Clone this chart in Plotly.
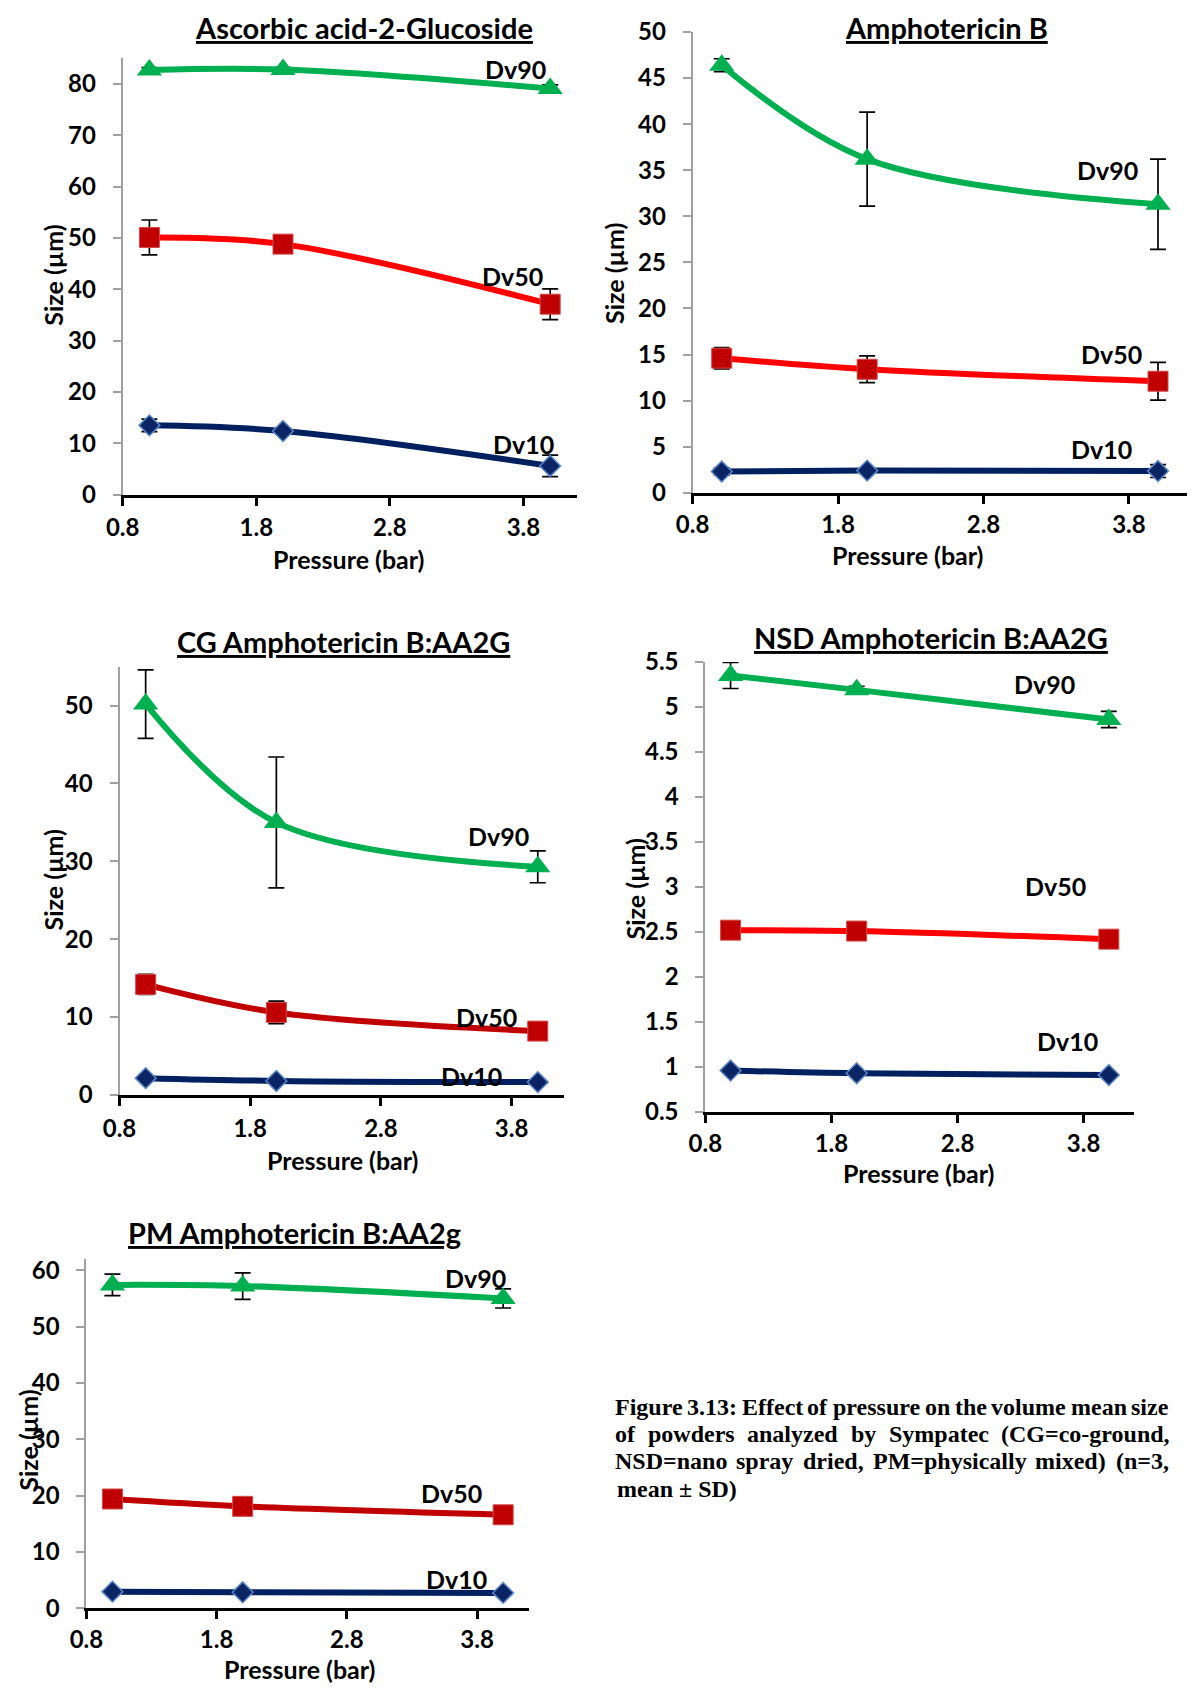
import plotly.graph_objects as go

# ---- data -------------------------------------------------------------
pressure = [1, 2, 4]

aa2g_dv90 = [82.7, 82.8, 79.1]
aa2g_dv90_sd = [0.5, 0.4, 0.7]
aa2g_dv50 = [50.1, 48.8, 37.1]
aa2g_dv50_sd = [3.4, 1.2, 3.0]
aa2g_dv10 = [13.5, 12.4, 5.6]
aa2g_dv10_sd = [1.2, 0.6, 2.1]

amb_dv90 = [46.4, 36.2, 31.3]
amb_dv90_sd = [0.7, 5.1, 4.9]
amb_dv50 = [14.6, 13.4, 12.1]
amb_dv50_sd = [1.15, 1.45, 2.05]
amb_dv10 = [2.3, 2.4, 2.35]
amb_dv10_sd = [0.4, 0.2, 0.7]

cg_dv90 = [50.2, 35.0, 29.3]
cg_dv90_sd = [4.4, 8.4, 2.05]
cg_dv50 = [14.2, 10.6, 8.2]
cg_dv50_sd = [1.3, 1.45, 0.3]
cg_dv10 = [2.16, 1.8, 1.65]
cg_dv10_sd = [0.2, 0.2, 0.2]

nsd_dv90 = [5.35, 5.19, 4.86]
nsd_dv90_sd = [0.145, 0.04, 0.09]
nsd_dv50 = [2.52, 2.51, 2.42]
nsd_dv50_sd = [0.02, 0.02, 0.02]
nsd_dv10 = [0.96, 0.93, 0.91]
nsd_dv10_sd = [0.01, 0.01, 0.01]

pm_dv90 = [57.4, 57.2, 55.0]
pm_dv90_sd = [1.9, 2.35, 1.7]
pm_dv50 = [19.4, 18.1, 16.6]
pm_dv50_sd = [0.5, 0.5, 0.5]
pm_dv10 = [2.96, 2.85, 2.74]
pm_dv10_sd = [0.2, 0.2, 0.2]

x_ticks = [0.8, 1.8, 2.8, 3.8]
series_names = ["Dv90", "Dv50", "Dv10"]

caption_lines = [
    "Figure 3.13: Effect of pressure on the volume mean size",
    "of powders analyzed by Sympatec (CG=co-ground,",
    "NSD=nano spray dried, PM=physically mixed) (n=3,",
    "mean ± SD)",
]

# ---- page geometry ----------------------------------------------------
W, H = 1193, 1697


def px(x):
    return x / W


def py(y):
    return 1 - y / H


FONT = "Lato"
GREEN = "#00B050"
RED = "#FF0000"
DARKRED = "#C00000"
NAVY = "#002060"

panels = [
    dict(title="Ascorbic acid-2-Glucoside",
         data=[(aa2g_dv90, aa2g_dv90_sd), (aa2g_dv50, aa2g_dv50_sd), (aa2g_dv10, aa2g_dv10_sd)],
         xdom=(107.2, 568.0), ydom=(43.0, 487.0),
         yrange=[0, 85], yticks=[0, 10, 20, 30, 40, 50, 60, 70, 80],
         red=RED, standoff=2,
         labels=[(3.74, 82.9), (3.72, 42.6), (3.80, 9.8)],
         title_pos=(352.0, 12.0), ytitle_pos=(35.7, 264.1), xtitle_pos=(336.7, 552.1)),
    dict(title="Amphotericin B",
         data=[(amb_dv90, amb_dv90_sd), (amb_dv50, amb_dv50_sd), (amb_dv10, amb_dv10_sd)],
         xdom=(685.4, 1187.0), ydom=(16.3, 485.0),
         yrange=[0, 50], yticks=list(range(0, 51, 5)),
         red=RED, standoff=0,
         labels=[(3.65, 35.0), (3.68, 15.1), (3.61, 4.7)],
         title_pos=(943.0, 12.0), ytitle_pos=(605.1, 262.0), xtitle_pos=(902.9, 548.0)),
    dict(title="CG Amphotericin B:AA2G",
         data=[(cg_dv90, cg_dv90_sd), (cg_dv50, cg_dv50_sd), (cg_dv10, cg_dv10_sd)],
         xdom=(104.0, 554.8), ydom=(662.0, 1097.7),
         yrange=[0, 55], yticks=[0, 10, 20, 30, 40, 50],
         red=DARKRED, standoff=2,
         labels=[(3.70, 33.3), (3.61, 10.0), (3.49, 2.45)],
         title_pos=(331.3, 636.6), ytitle_pos=(36.0, 879.0), xtitle_pos=(330.2, 1163.7)),
    dict(title="NSD Amphotericin B:AA2G",
         data=[(nsd_dv90, nsd_dv90_sd), (nsd_dv50, nsd_dv50_sd), (nsd_dv10, nsd_dv10_sd)],
         xdom=(698.3, 1133.2), ydom=(657.2, 1115.0),
         yrange=[0.5, 5.5], yticks=[0.5, 1, 1.5, 2, 2.5, 3, 3.5, 4, 4.5, 5, 5.5],
         red=RED, standoff=0,
         labels=[(3.49, 5.26), (3.58, 3.01), (3.67, 1.29)],
         title_pos=(926.8, 632.3), ytitle_pos=(626.9, 887.7), xtitle_pos=(914.8, 1177.0)),
    dict(title="PM Amphotericin B:AA2g",
         data=[(pm_dv90, pm_dv90_sd), (pm_dv50, pm_dv50_sd), (pm_dv10, pm_dv10_sd)],
         xdom=(70.4, 519.6), ydom=(1264.6, 1620.0),
         yrange=[0, 62], yticks=[0, 10, 20, 30, 40, 50, 60],
         red=DARKRED, standoff=0,
         labels=[(3.79, 58.6), (3.60, 20.5), (3.64, 5.2)],
         title_pos=(281.5, 1237.4), ytitle_pos=(11.0, 1448.7), xtitle_pos=(286.9, None)),
]

fig = go.Figure()
annotations = []
layout_axes = {}

for i, p in enumerate(panels, start=1):
    sfx = "" if i == 1 else str(i)
    xa, ya = "x" + sfx, "y" + sfx

    styles = [
        dict(line=GREEN, symbol="triangle-up", size=22, fill=GREEN, edge=GREEN, edge_w=0),
        dict(line=p["red"], symbol="square", size=20, fill=DARKRED, edge="#D24A4A", edge_w=1),
        dict(line=NAVY, symbol="diamond", size=16, fill="#0B2463", edge="#5B86C8", edge_w=1.5),
    ]
    for (vals, sd), st, name in zip(p["data"], styles, series_names):
        fig.add_trace(go.Scatter(
            x=pressure, y=vals, name=name, mode="lines+markers",
            xaxis=xa, yaxis=ya, showlegend=False, cliponaxis=False,
            line=dict(color=st["line"], width=6, shape="spline", smoothing=1),
            marker=dict(symbol=st["symbol"], size=st["size"], color=st["fill"],
                        line=dict(color=st["edge"], width=st["edge_w"])),
            error_y=dict(type="data", array=sd, visible=True, color="black",
                         thickness=1.7, width=8),
        ))

    layout_axes["xaxis" + sfx] = dict(
        domain=[px(p["xdom"][0]), px(p["xdom"][1])], anchor=ya,
        range=[0.8, 4.2], tickvals=x_ticks, ticktext=[f"{t:.1f}" for t in x_ticks],
        showline=True, linecolor="black", linewidth=3, mirror=False,
        ticks="outside", ticklen=8, tickwidth=3, tickcolor="black",
        showgrid=False, zeroline=False, ticklabelstandoff=p["standoff"],
        tickfont=dict(family=FONT, size=24, color="black", weight="bold"),
    )
    layout_axes["yaxis" + sfx] = dict(
        domain=[py(p["ydom"][1]), py(p["ydom"][0])], anchor=xa,
        range=p["yrange"], tickvals=p["yticks"],
        ticktext=[f"{t:g}" for t in p["yticks"]],
        showline=True, linecolor="#A0A0A0", linewidth=2,
        ticks="outside", ticklen=8, tickwidth=2, tickcolor="#A0A0A0",
        showgrid=False, zeroline=False, ticklabelstandoff=12,
        tickfont=dict(family=FONT, size=24, color="black", weight="bold"),
    )

    # panel heading
    tx, ty = p["title_pos"]
    annotations.append(dict(
        text="<u>" + p["title"] + "</u>", x=px(tx), y=py(ty), xref="paper", yref="paper",
        xanchor="center", yanchor="middle", showarrow=False,
        font=dict(family=FONT, size=29, color="black", weight="bold")))
    # axis titles
    yx, yy = p["ytitle_pos"]
    annotations.append(dict(
        text="Size (µm)", x=px(yx), y=py(yy), xref="paper", yref="paper",
        xanchor="center", yanchor="middle", textangle=-90, showarrow=False,
        font=dict(family=FONT, size=25, color="black", weight="bold")))
    xx, xy = p["xtitle_pos"]
    annotations.append(dict(
        text="Pressure (bar)", x=px(xx), y=py(1699.0) if xy is None else py(xy),
        xref="paper", yref="paper",
        xanchor="center", yanchor="bottom" if xy is None else "middle", showarrow=False,
        font=dict(family=FONT, size=25, color="black", weight="bold")))
    # series labels
    for (lx, ly), name in zip(p["labels"], series_names):
        annotations.append(dict(
            text=name, x=lx, y=ly, xref=xa, yref=ya,
            xanchor="center", yanchor="middle", showarrow=False,
            font=dict(family=FONT, size=25, color="black", weight="bold")))

# ---- figure caption: justified paragraph -------------------------------
# Advance widths of Times bold glyphs (per 1000 em), used to spread the words.
TIMES_BOLD = {
    " ": 250, "(": 333, ")": 333, ",": 250, "-": 333, ".": 250, "1": 500, "3": 500,
    ":": 333, "=": 570, "±": 570, "C": 722, "D": 722, "E": 667, "F": 611, "G": 778,
    "M": 944, "N": 722, "P": 611, "S": 556, "a": 500, "b": 556, "c": 444, "d": 556,
    "e": 444, "f": 333, "g": 500, "h": 556, "i": 278, "l": 278, "m": 833, "n": 556,
    "o": 500, "p": 556, "r": 444, "s": 389, "t": 333, "u": 556, "v": 500, "w": 722,
    "x": 500, "y": 500, "z": 444,
}
CAP_SIZE = 24
CAP_FONT = dict(family="Liberation Serif", size=CAP_SIZE, color="black", weight="bold")
cap_left, cap_right = 607.0, 1168.0
cap_rows = [1414.7, 1442.7, 1470.2, 1498.2]


def word_width(word):
    return sum(TIMES_BOLD.get(ch, 500) for ch in word) * CAP_SIZE / 1000.0


for row, (line, yline) in enumerate(zip(caption_lines, cap_rows)):
    words = line.split(" ")
    last = row == len(caption_lines) - 1
    if last or len(words) == 1:
        annotations.append(dict(
            text=line, x=px(cap_left), y=py(yline), xref="paper", yref="paper",
            xanchor="left", yanchor="middle", showarrow=False, font=CAP_FONT))
        continue
    widths = [word_width(w) for w in words]
    gap = (cap_right - cap_left - sum(widths)) / (len(words) - 1)
    xpos = cap_left
    for w, wd in zip(words, widths):
        annotations.append(dict(
            text=w, x=px(xpos + wd / 2), y=py(yline), xref="paper", yref="paper",
            xanchor="center", yanchor="middle", showarrow=False, font=CAP_FONT))
        xpos += wd + gap

fig.update_layout(
    width=W, height=H, margin=dict(l=0, r=0, t=0, b=0),
    paper_bgcolor="white", plot_bgcolor="white",
    annotations=annotations, **layout_axes,
)

fig.write_html("out.html")
